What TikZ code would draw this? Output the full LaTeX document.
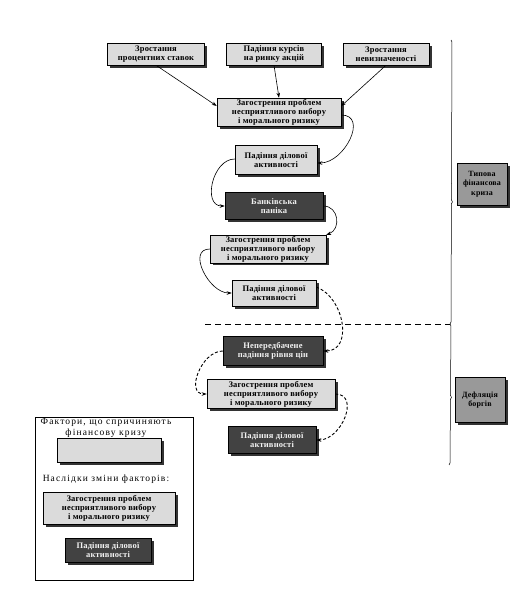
\documentclass[tikz,border=0pt]{standalone}
\usepackage{fontspec}
\setmainfont{Liberation Serif}[LetterSpace=2]
\newfontfamily\legfont{Liberation Serif}[LetterSpace=12]
\usetikzlibrary{shadows,decorations.pathreplacing,arrows.meta}
\tikzset{
 box/.style={draw=black, line width=0.5pt, inner sep=1pt, align=center,
   font=\fontsize{8.5}{9}\selectfont\bfseries,
   drop shadow={shadow xshift=2.5pt, shadow yshift=-2.5pt, fill=black!80, opacity=1}},
 light/.style={box, fill=black!14},
 dark/.style={box, fill=black!74, text=black!5},
 mid/.style={box, fill=black!40},
 arr/.style={-{Stealth[length=5pt,width=3.5pt]}, line width=0.6pt},
 darr/.style={arr, dash pattern=on 3pt off 2pt, line width=0.9pt},
 sep/.style={dash pattern=on 6pt off 4pt, line width=0.5pt},
 brc/.style={decorate, decoration={brace, amplitude=2pt}, line width=0.5pt},
 legtext/.style={font=\legfont\fontsize{9.5}{10.5}\selectfont, align=center, inner sep=0pt},
}
\begin{document}
\begin{tikzpicture}[x=1pt,y=-1pt]
\useasboundingbox[fill=white] (0,0) rectangle (530,606);
% top factors
\node[light, minimum width=97pt, minimum height=22pt] (b1) at (156,54) {Зростання\\процентних ставок};
\node[light, minimum width=95pt, minimum height=22pt] (b2) at (274,54) {Падіння курсів\\на ринку акцій};
\node[light, minimum width=86pt, minimum height=22pt] (b3) at (386,54) {Зростання\\невизначеності};
% chain
\node[light, minimum width=124pt, minimum height=28pt] (a1) at (279,112) {Загострення проблем\\несприятливого вибору\\і морального ризику};
\node[light, minimum width=82pt, minimum height=29pt] (p1) at (276,160) {Падіння ділової\\активності};
\node[dark, minimum width=98pt, minimum height=27pt] (bp) at (274,206) {Банківська\\паніка};
\node[light, minimum width=116pt, minimum height=26pt] (a2) at (268,249) {Загострення проблем\\несприятливого вибору\\і морального ризику};
\node[light, minimum width=84pt, minimum height=26pt] (p2) at (274,293) {Падіння ділової\\активності};
\node[dark, minimum width=100pt, minimum height=29pt] (np) at (273,351) {Непередбачене\\падіння рівня цін};
\node[light, minimum width=128pt, minimum height=29pt] (a3) at (271,394) {Загострення проблем\\несприятливого вибору\\і морального ризику};
\node[dark, minimum width=88pt, minimum height=27pt] (p3) at (272,440) {Падіння ділової\\активності};
% right labels
\node[mid, minimum width=50pt, minimum height=42pt, font=\fontsize{8}{9.5}\selectfont\bfseries, inner sep=0pt] (t1) at (482,184) {Типова\\фінансова\\криза};
\node[mid, minimum width=50pt, minimum height=45pt, font=\fontsize{8}{9.5}\selectfont\bfseries, inner sep=0pt] (t2) at (480,400) {Дефляція\\боргів};
% right braces and separator
\coordinate (vt) at (451,40);
\coordinate (vm) at (450,324);
\coordinate (vb) at (449,465);
\coordinate (sl) at (205,324);
\draw[brc, decoration={aspect=0.57}] (vt) -- (vm);
\draw[brc, decoration={aspect=0.52}] (vm) -- (vb);
\draw[sep] (sl) -- (vm);
% arrows from factors
\draw[arr] (b1.south) -- ([yshift=6pt]a1.west);
\draw[arr] (b2.south) -- (a1.north);
\draw[arr] (b3.south) -- ([yshift=6pt]a1.east);
% curved chain
\draw[arr] ([yshift=-3pt]a1.east) to[out=0,in=0,looseness=1.3] ([yshift=-3pt]p1.east);
\draw[arr] ([yshift=1pt]p1.west) to[out=180,in=180,looseness=1.2] (bp.west);
\draw[arr] (bp.east) to[out=0,in=20,looseness=1.4] (a2.north east);
\draw[arr] (a2.west) to[out=180,in=180,looseness=1.2] (p2.west);
\draw[darr] ([yshift=6pt]p2.east) to[out=-20,in=0,looseness=1.2] (np.east);
\draw[darr] (np.west) to[out=180,in=180,looseness=1.2] (a3.west);
\draw[darr] (a3.east) to[out=0,in=0,looseness=1.3] (p3.east);
% legend
\draw[line width=0.5pt] (35,417) rectangle (193,580);
\node[legtext] (lt1) at (106,428) {Фактори, що спричиняють\\фінансову кризу};
\node[light, minimum width=104pt, minimum height=24pt] (l1) at (109,450) {};
\node[legtext] (lt2) at (106,479) {Наслідки зміни факторів:};
\node[light, minimum width=132pt, minimum height=32pt] (l2) at (109,508) {Загострення проблем\\несприятливого вибору\\і морального ризику};
\node[dark, minimum width=86pt, minimum height=24pt] (l3) at (108,550) {Падіння ділової\\активності};
\end{tikzpicture}
\end{document}
